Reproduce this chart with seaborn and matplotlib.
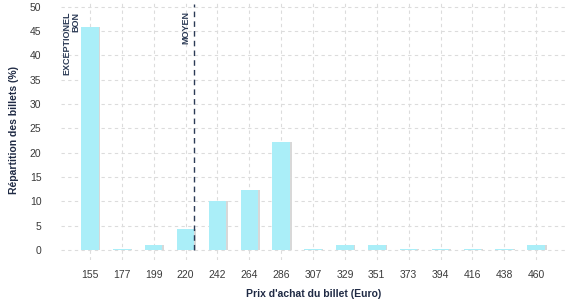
import numpy as np
import pandas as pd
import seaborn as sns
import matplotlib
matplotlib.use("Agg")
import matplotlib.pyplot as plt
import matplotlib.patheffects as pe

prices = [155, 177, 199, 220, 242, 264, 286, 307, 329, 351, 373, 394, 416, 438, 460]
shares = [45.8, 0.25, 1.0, 4.3, 10.0, 12.3, 22.3, 0.15, 1.0, 1.0, 0.15, 0.15, 0.15, 0.15, 1.0]
moyen_price = 225.5
labels_txt = ["EXCEPTIONEL\nBON", "MOYEN"]
x_label = "Prix d'achat du billet (Euro)"
y_label = "Répartition des billets (%)"
y_ticks = [0, 5, 10, 15, 20, 25, 30, 35, 40, 45, 50]

sns.set_theme(style="white")
plt.rcParams['font.family'] = ['Liberation Sans', 'DejaVu Sans']

df = pd.DataFrame({"prix": [str(p) for p in prices], "part": shares})

fig = plt.figure(figsize=(5.77, 3.0), dpi=100)
ax = fig.add_axes([61 / 577, 40 / 300, (567 - 61) / 577, 260 / 300])

sns.barplot(data=df, x="prix", y="part", order=[str(p) for p in prices],
            color="#aaeef8", saturation=1, width=0.55, ax=ax, zorder=3)
for patch in ax.patches:
    patch.set_edgecolor("none")
    patch.set_path_effects([pe.SimplePatchShadow(offset=(1.2, 0), shadow_rgbFace="#d8d8d8", alpha=1.0), pe.Normal()])

ax.set_xlim(-0.91, 14.97)
ax.set_ylim(-2.05, 51.4)
ax.set_yticks(y_ticks)

ax.grid(True, color="#dcdcdc", linestyle=(0, (3, 3)), linewidth=0.8, zorder=0)
ax.set_axisbelow(True)
for s in ax.spines.values():
    s.set_visible(False)
ax.tick_params(axis="both", length=0, labelsize=7.5, labelcolor="#3a3a3a")
ax.tick_params(axis="x", pad=7)
ax.tick_params(axis="y", pad=14)

xm = np.interp(moyen_price, prices, np.arange(len(prices)))
ax.axvline(xm, color="#2b3a55", linestyle=(0, (4, 3)), linewidth=1.0, ymin=0.04, ymax=0.985, zorder=4)
ax.text(xm - 0.1, 49.2, labels_txt[1], rotation=90, ha="right", va="top",
        fontsize=6.5, fontweight="bold", color="#2b3a55", zorder=5)
ax.text(-0.3, 49.0, labels_txt[0], rotation=90, ha="right", va="top", multialignment="right",
        fontsize=6.5, fontweight="bold", color="#2b3a55", linespacing=1.0, zorder=5)

ax.set_xlabel(x_label, fontsize=7.5, fontweight="bold", color="#1f2a44", labelpad=7)
ax.set_ylabel(y_label, fontsize=7.5, fontweight="bold", color="#1f2a44", labelpad=8)

fig.savefig("out.png", dpi=100)
